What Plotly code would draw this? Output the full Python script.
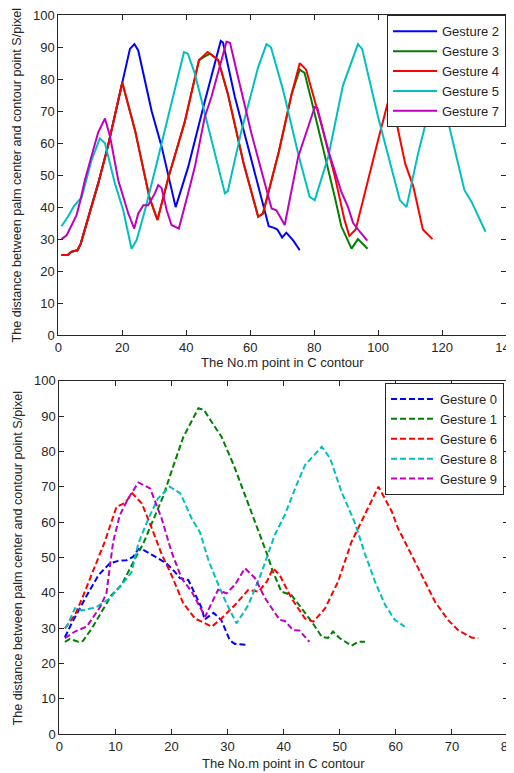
import plotly.graph_objects as go

# ---------------- Top chart data (solid lines) ----------------
g2_x = [1, 3, 4, 6, 7, 9.5, 12.5, 15.5, 20, 22.4, 23.8, 25, 29.2, 32.3, 36.7, 40.6, 45.8, 50.8, 51.5,
        55.2, 60.4, 64, 65.8, 67.5, 68.5, 70, 71.3, 73.5, 75.5]
g2_y = [25, 25, 26, 26.5, 28.5, 37, 47.5, 59, 79, 89.5, 91, 89, 70, 59, 40, 52.5, 73, 92, 91.5,
        74.5, 54.7, 41, 34, 33.5, 33, 30.5, 32, 29.5, 26.5]

g3_x = [1, 3, 4, 6, 7, 9.5, 12.5, 15.5, 20, 24, 28.5, 31, 34.5, 39.5, 44, 46.5, 47.5, 50, 53, 58,
        62.5, 64, 69, 73, 75.5, 77, 79.5, 86.5, 88.5, 91.7, 93.7, 96.7]
g3_y = [25, 25, 26, 26.5, 28.5, 37, 47.5, 59, 79, 64, 43, 36, 49.5, 66.5, 86, 87.5, 88, 86, 75.5, 53.5,
        37, 38, 57.5, 75.5, 83, 82, 72, 43, 34, 27, 30, 27]

g4_x = [1, 3, 4, 6, 7, 9.5, 12.5, 15.5, 20, 24, 28.5, 31, 34.5, 39.5, 44, 46.7, 50, 53, 58, 62.5,
        64, 69, 73, 75.5, 77.5, 82.5, 86.5, 89.5, 91, 93, 97, 100, 103, 105, 108.5, 111, 114, 117]
g4_y = [25, 25, 26, 26.5, 28.5, 37, 47.5, 59, 79, 64, 43, 36, 49.5, 66.5, 86, 88.5, 86, 75.5, 53.5, 37,
        38, 57.5, 75.5, 85, 83, 65, 49.5, 36, 31, 33, 49.5, 61, 72.5, 70, 53.5, 46.5, 33, 30]

g5_x = [1, 3, 5, 7.3, 10.4, 13, 14.6, 17.7, 20.3, 22.9, 24.5, 27.1, 30.75, 34.4, 39.3, 40.5, 42.7,
        46.9, 52.1, 53, 57.3, 62.5, 65.1, 66.5, 70.3, 75, 78.6, 80.2, 84.4, 89, 93.7, 95, 100,
        106.8, 108.9, 112.5, 116.2, 118.5, 120.8, 127, 129.2, 133.6]
g5_y = [34, 37, 40.5, 43, 54.7, 61.5, 60, 47.4, 39, 27, 29.7, 39, 53.6, 68.2, 88.5, 88, 81.8,
        65, 44.3, 45, 64, 83.8, 91, 90, 76.6, 56.8, 43.2, 42.2, 55.7, 78, 91, 89.5, 68.2,
        42.2, 40, 56.8, 71.3, 78, 71.3, 45.3, 41.7, 32.3]

g7_x = [1, 2.6, 4.2, 5.7, 6.8, 8.3, 10.9, 12.5, 14.6, 16.2, 18.75, 21.9, 23.75, 25, 26.6, 28.1, 30.2,
        31.25, 32.3, 33.9, 35.4, 37.7, 40.6, 42.7, 45.8, 47.9, 52.6, 53.7, 55.7, 60.4, 66.7, 68.2,
        70.8, 75, 80.2, 81, 84.4, 88.5, 90.6, 92.2, 94.3, 96.6]
g7_y = [30, 31.2, 34.4, 37.5, 41.7, 48.4, 57.8, 63.5, 67.7, 62, 48.4, 38, 33.3, 38, 40.6, 40.6, 44.3,
        46.9, 46, 39, 34.4, 33.3, 44.3, 52.6, 68.2, 74.5, 91.7, 91.4, 82.8, 63, 39.6, 39,
        34.4, 55.7, 71.3, 71, 57.8, 44.8, 40, 35, 32.3, 29.5]

# ---------------- Bottom chart data (dashed lines) ----------------
g0_x = [1, 2.2, 5, 7, 9, 10.5, 12, 13.2, 14.1, 14.9, 17.1, 19.1, 20.6, 21.5, 23, 24.2, 25.4, 25.9,
        27.5, 28.9, 30.4, 31.3, 33.7]
g0_y = [27.4, 31.3, 39.5, 45, 48.3, 49, 49.2, 50.2, 52.4, 52.2, 50.2, 48.3, 45.9, 44.1, 43.6, 39.8, 35.6, 32.4,
        34.3, 32.2, 26.5, 25.5, 25.2]

g1_x = [1, 1.9, 3.4, 4.2, 5.8, 7.6, 9.3, 11.1, 12.3, 13.8, 15, 16.8, 18.5, 20.3, 22.1, 24.8, 25.8, 27.5,
        28.9, 31.2, 34.6, 37, 38.1, 39.6, 41.4, 43.2, 45, 46.8, 47.9, 48.8, 50, 52.1, 53.3, 54.5]
g1_y = [26.1, 26.9, 26.1, 26.3, 29.9, 34.6, 39.3, 42.2, 46, 50.5, 54, 60.6, 67.2, 75.7, 84, 92.2, 91.7, 87.5,
        84.2, 75.7, 61.5, 51.1, 45.9, 40.3, 39.3, 35.6, 31.8, 27.5, 27.2, 29, 27.1, 25, 26.1, 26.1]

g6_x = [1, 2.8, 4.3, 6.7, 8.1, 10.2, 11.7, 13, 14.7, 16.5, 18.3, 20, 22.1, 24.2, 26.6, 27.2, 28.9,
        31.3, 33.7, 35.5, 37, 38.1, 39.3, 41.4, 43.8, 45.3, 47.4, 49.7, 52.1, 54.5, 56.9, 59.3, 60.4,
        62.2, 64.6, 67, 69.3, 71.1, 73.5, 74.7]
g6_y = [29.9, 33.7, 39.3, 49.2, 54.4, 64.3, 65.4, 68.1, 65.3, 58.2, 50.7, 45, 37, 32.7, 30.9, 30.4, 32.7,
        36.5, 40.8, 40.3, 43.1, 46.9, 45, 38.4, 32.7, 31.8, 35.6, 43.1, 54.4, 62, 70, 62.9, 58.2,
        52.6, 45, 37.4, 32.3, 29.4, 27.3, 27.1]

g8_x = [1, 1.3, 2.8, 4, 5.8, 6.7, 9, 10.8, 12.3, 12.9, 14.1, 15.9, 17.6, 19.7, 21.6, 23.6, 25.1, 26.6,
        28, 29.8, 31.6, 33.7, 36.1, 38.4, 40.2, 42.3, 43.8, 46.8, 48.3, 50.3, 52.7, 54.5, 56.3, 58.1,
        59.8, 61.6]
g8_y = [29.9, 30.4, 35.6, 35, 35.6, 36, 38.4, 41.7, 44.5, 45.9, 54, 61, 66.7, 70, 68.1, 61, 57, 49.2,
        43.6, 37, 31.3, 36.5, 45.9, 56.3, 62, 70.5, 76.1, 81.3, 78, 68.6, 59.8, 51, 43.1, 36.5,
        32.3, 30.4]

g9_x = [1, 2.8, 4.9, 7.3, 8.4, 9, 9.6, 10.8, 12.3, 14.1, 16.2, 18.25, 20, 21.8, 23.6, 26, 27.2, 28.3,
        29.8, 31.3, 33.1, 34.9, 36.7, 39.3, 40.2, 41.7, 42.8, 44.6]
g9_y = [27.1, 29, 30.4, 36, 39.8, 46.4, 54.4, 62, 66.7, 71.2, 69.5, 61, 51.6, 44.1, 40.3, 33.2, 37.4, 40.8,
        39.8, 42.2, 46.9, 44.1, 38.4, 32.3, 32, 29.4, 29.3, 26.1]

top_names = ["Gesture 2", "Gesture 3", "Gesture 4", "Gesture 5", "Gesture 7"]
bot_names = ["Gesture 0", "Gesture 1", "Gesture 6", "Gesture 8", "Gesture 9"]
top_x_ticks = [0, 20, 40, 60, 80, 100, 120, 140]
bot_x_ticks = [0, 10, 20, 30, 40, 50, 60, 70, 80]
y_ticks = [0, 10, 20, 30, 40, 50, 60, 70, 80, 90, 100]

COLORS = ["#0000FF", "#008000", "#FF0000", "#00BFBF", "#BF00BF"]
W, H = 514, 773
OFF = 8  # page body margin offset
FONT = "Liberation Sans, Arial, sans-serif"
TXT = "#262626"

fig = go.Figure()
top_series = [(g2_x, g2_y), (g3_x, g3_y), (g4_x, g4_y), (g5_x, g5_y), (g7_x, g7_y)]
bot_series = [(g0_x, g0_y), (g1_x, g1_y), (g6_x, g6_y), (g8_x, g8_y), (g9_x, g9_y)]

for (xs, ys), name, c in zip(top_series, top_names, COLORS):
    fig.add_trace(go.Scatter(x=xs, y=ys, mode="lines", name=name,
                             line=dict(color=c, width=2),
                             xaxis="x", yaxis="y", legend="legend"))
for (xs, ys), name, c in zip(bot_series, bot_names, COLORS):
    fig.add_trace(go.Scatter(x=xs, y=ys, mode="lines", name=name,
                             line=dict(color=c, width=2, dash="6px,3px"),
                             xaxis="x2", yaxis="y2", legend="legend2"))

def px(p):
    return (p - OFF) / W

def py(p):
    return 1 - (p - OFF) / H

axis_common = dict(showline=True, linecolor=TXT, linewidth=1, mirror="ticks",
                   ticks="inside", ticklen=5, tickcolor=TXT, showgrid=False,
                   zeroline=False, automargin=False, ticklabeloverflow="allow",
                   tickfont=dict(family=FONT, size=13, color=TXT))

leg_common = dict(bgcolor="white", bordercolor=TXT, borderwidth=1,
                  font=dict(family=FONT, size=13, color=TXT), itemwidth=44,
                  xanchor="right", yanchor="top", tracegroupgap=0)

fig.update_layout(
    width=W, height=H,
    margin=dict(l=0, r=0, t=0, b=0, autoexpand=False),
    paper_bgcolor="white", plot_bgcolor="white",
    xaxis=dict(domain=[px(58.3), px(506)], range=[0, 140], tickvals=top_x_ticks,
               anchor="y", **axis_common),
    yaxis=dict(domain=[py(335), py(15.3)], range=[0, 100], tickvals=y_ticks,
               anchor="x", **axis_common),
    xaxis2=dict(domain=[px(59.3), px(508)], range=[0, 80], tickvals=bot_x_ticks,
                anchor="y2", **axis_common),
    yaxis2=dict(domain=[py(734), py(380.7)], range=[0, 100], tickvals=y_ticks,
                anchor="x2", **axis_common),
    legend=dict(x=px(506), y=py(15.3), **leg_common),
    legend2=dict(x=px(504), y=py(383), **leg_common),
    annotations=[
        dict(text="The No.m point in C contour", x=px(282), y=py(362), xref="paper", yref="paper",
             showarrow=False, xanchor="center", yanchor="middle",
             font=dict(family=FONT, size=13, color=TXT)),
        dict(text="The No.m point in C contour", x=px(283.5), y=py(763), xref="paper", yref="paper",
             showarrow=False, xanchor="center", yanchor="middle",
             font=dict(family=FONT, size=13, color=TXT)),
        dict(text="The distance between palm center and contour point S/pixel", x=px(16.5), y=py(175),
             xref="paper", yref="paper", showarrow=False, textangle=-90,
             xanchor="center", yanchor="middle", font=dict(family=FONT, size=12.6, color=TXT)),
        dict(text="The distance between palm center and contour point S/pixel", x=px(17.5), y=py(558),
             xref="paper", yref="paper", showarrow=False, textangle=-90,
             xanchor="center", yanchor="middle", font=dict(family=FONT, size=12.6, color=TXT)),
    ],
)

fig.write_html("out.html")
